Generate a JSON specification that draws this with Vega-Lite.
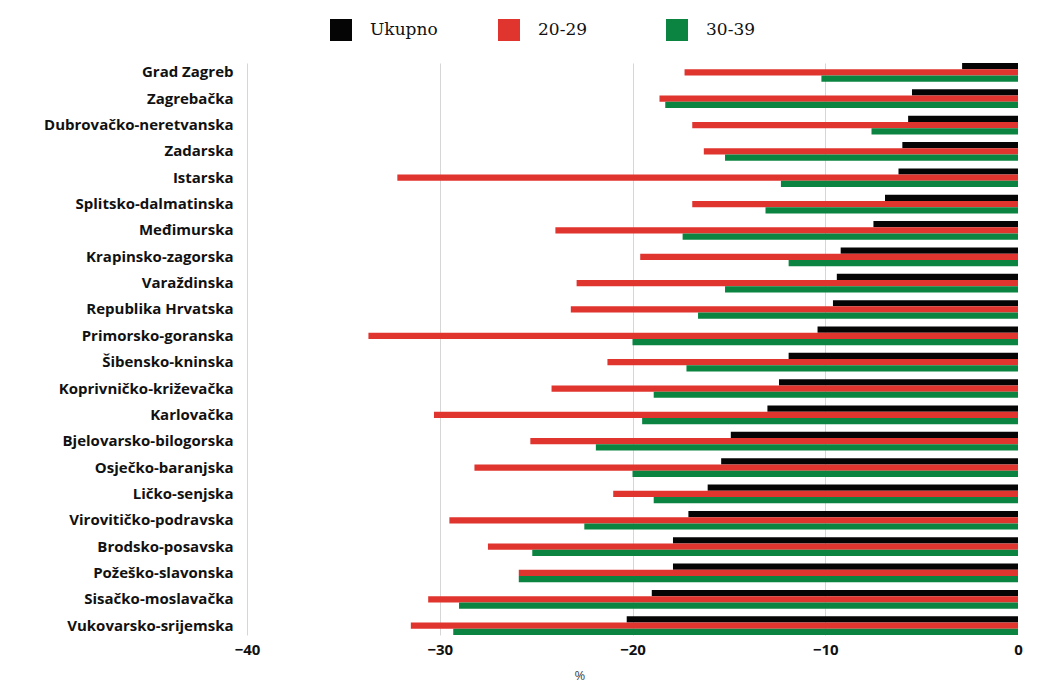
{
  "$schema": "https://vega.github.io/schema/vega-lite/v6.json",
  "width": 771,
  "height": 572,
  "autosize": {"type": "none"},
  "padding": {"left": 247, "top": 63, "right": 42, "bottom": 51},
  "background": "#ffffff",
  "config": {"view": {"stroke": null}},
  "data": {
    "values": [
      {"zupanija": "Grad Zagreb", "serija": "Ukupno", "vrijednost": -2.9},
      {"zupanija": "Grad Zagreb", "serija": "20-29", "vrijednost": -17.3},
      {"zupanija": "Grad Zagreb", "serija": "30-39", "vrijednost": -10.2},
      {"zupanija": "Zagrebačka", "serija": "Ukupno", "vrijednost": -5.5},
      {"zupanija": "Zagrebačka", "serija": "20-29", "vrijednost": -18.6},
      {"zupanija": "Zagrebačka", "serija": "30-39", "vrijednost": -18.3},
      {"zupanija": "Dubrovačko-neretvanska", "serija": "Ukupno", "vrijednost": -5.7},
      {"zupanija": "Dubrovačko-neretvanska", "serija": "20-29", "vrijednost": -16.9},
      {"zupanija": "Dubrovačko-neretvanska", "serija": "30-39", "vrijednost": -7.6},
      {"zupanija": "Zadarska", "serija": "Ukupno", "vrijednost": -6.0},
      {"zupanija": "Zadarska", "serija": "20-29", "vrijednost": -16.3},
      {"zupanija": "Zadarska", "serija": "30-39", "vrijednost": -15.2},
      {"zupanija": "Istarska", "serija": "Ukupno", "vrijednost": -6.2},
      {"zupanija": "Istarska", "serija": "20-29", "vrijednost": -32.2},
      {"zupanija": "Istarska", "serija": "30-39", "vrijednost": -12.3},
      {"zupanija": "Splitsko-dalmatinska", "serija": "Ukupno", "vrijednost": -6.9},
      {"zupanija": "Splitsko-dalmatinska", "serija": "20-29", "vrijednost": -16.9},
      {"zupanija": "Splitsko-dalmatinska", "serija": "30-39", "vrijednost": -13.1},
      {"zupanija": "Međimurska", "serija": "Ukupno", "vrijednost": -7.5},
      {"zupanija": "Međimurska", "serija": "20-29", "vrijednost": -24.0},
      {"zupanija": "Međimurska", "serija": "30-39", "vrijednost": -17.4},
      {"zupanija": "Krapinsko-zagorska", "serija": "Ukupno", "vrijednost": -9.2},
      {"zupanija": "Krapinsko-zagorska", "serija": "20-29", "vrijednost": -19.6},
      {"zupanija": "Krapinsko-zagorska", "serija": "30-39", "vrijednost": -11.9},
      {"zupanija": "Varaždinska", "serija": "Ukupno", "vrijednost": -9.4},
      {"zupanija": "Varaždinska", "serija": "20-29", "vrijednost": -22.9},
      {"zupanija": "Varaždinska", "serija": "30-39", "vrijednost": -15.2},
      {"zupanija": "Republika Hrvatska", "serija": "Ukupno", "vrijednost": -9.6},
      {"zupanija": "Republika Hrvatska", "serija": "20-29", "vrijednost": -23.2},
      {"zupanija": "Republika Hrvatska", "serija": "30-39", "vrijednost": -16.6},
      {"zupanija": "Primorsko-goranska", "serija": "Ukupno", "vrijednost": -10.4},
      {"zupanija": "Primorsko-goranska", "serija": "20-29", "vrijednost": -33.7},
      {"zupanija": "Primorsko-goranska", "serija": "30-39", "vrijednost": -20.0},
      {"zupanija": "Šibensko-kninska", "serija": "Ukupno", "vrijednost": -11.9},
      {"zupanija": "Šibensko-kninska", "serija": "20-29", "vrijednost": -21.3},
      {"zupanija": "Šibensko-kninska", "serija": "30-39", "vrijednost": -17.2},
      {"zupanija": "Koprivničko-križevačka", "serija": "Ukupno", "vrijednost": -12.4},
      {"zupanija": "Koprivničko-križevačka", "serija": "20-29", "vrijednost": -24.2},
      {"zupanija": "Koprivničko-križevačka", "serija": "30-39", "vrijednost": -18.9},
      {"zupanija": "Karlovačka", "serija": "Ukupno", "vrijednost": -13.0},
      {"zupanija": "Karlovačka", "serija": "20-29", "vrijednost": -30.3},
      {"zupanija": "Karlovačka", "serija": "30-39", "vrijednost": -19.5},
      {"zupanija": "Bjelovarsko-bilogorska", "serija": "Ukupno", "vrijednost": -14.9},
      {"zupanija": "Bjelovarsko-bilogorska", "serija": "20-29", "vrijednost": -25.3},
      {"zupanija": "Bjelovarsko-bilogorska", "serija": "30-39", "vrijednost": -21.9},
      {"zupanija": "Osječko-baranjska", "serija": "Ukupno", "vrijednost": -15.4},
      {"zupanija": "Osječko-baranjska", "serija": "20-29", "vrijednost": -28.2},
      {"zupanija": "Osječko-baranjska", "serija": "30-39", "vrijednost": -20.0},
      {"zupanija": "Ličko-senjska", "serija": "Ukupno", "vrijednost": -16.1},
      {"zupanija": "Ličko-senjska", "serija": "20-29", "vrijednost": -21.0},
      {"zupanija": "Ličko-senjska", "serija": "30-39", "vrijednost": -18.9},
      {"zupanija": "Virovitičko-podravska", "serija": "Ukupno", "vrijednost": -17.1},
      {"zupanija": "Virovitičko-podravska", "serija": "20-29", "vrijednost": -29.5},
      {"zupanija": "Virovitičko-podravska", "serija": "30-39", "vrijednost": -22.5},
      {"zupanija": "Brodsko-posavska", "serija": "Ukupno", "vrijednost": -17.9},
      {"zupanija": "Brodsko-posavska", "serija": "20-29", "vrijednost": -27.5},
      {"zupanija": "Brodsko-posavska", "serija": "30-39", "vrijednost": -25.2},
      {"zupanija": "Požeško-slavonska", "serija": "Ukupno", "vrijednost": -17.9},
      {"zupanija": "Požeško-slavonska", "serija": "20-29", "vrijednost": -25.9},
      {"zupanija": "Požeško-slavonska", "serija": "30-39", "vrijednost": -25.9},
      {"zupanija": "Sisačko-moslavačka", "serija": "Ukupno", "vrijednost": -19.0},
      {"zupanija": "Sisačko-moslavačka", "serija": "20-29", "vrijednost": -30.6},
      {"zupanija": "Sisačko-moslavačka", "serija": "30-39", "vrijednost": -29.0},
      {"zupanija": "Vukovarsko-srijemska", "serija": "Ukupno", "vrijednost": -20.3},
      {"zupanija": "Vukovarsko-srijemska", "serija": "20-29", "vrijednost": -31.5},
      {"zupanija": "Vukovarsko-srijemska", "serija": "30-39", "vrijednost": -29.3}
    ]
  },
  "mark": {"type": "bar", "cornerRadius": 0},
  "encoding": {
    "y": {
      "field": "zupanija",
      "type": "nominal",
      "sort": null,
      "scale": {"paddingInner": 0.29, "paddingOuter": 0},
      "axis": {
        "title": null,
        "domain": false,
        "ticks": false,
        "labelFont": "Open Sans",
        "labelFontWeight": "bold",
        "labelFontSize": 15,
        "labelColor": "#111111",
        "labelPadding": 14,
        "labelLimit": 300
      }
    },
    "yOffset": {
      "field": "serija",
      "type": "nominal",
      "sort": ["Ukupno", "20-29", "30-39"],
      "scale": {"paddingInner": 0, "paddingOuter": 0}
    },
    "x": {
      "field": "vrijednost",
      "type": "quantitative",
      "scale": {"domain": [-40, 0], "nice": false},
      "axis": {
        "title": "%",
        "titleFont": "Open Sans",
        "titleFontWeight": "normal",
        "titleFontSize": 13,
        "titleColor": "#444444",
        "titleAnchor": "start",
        "titleX": 327,
        "titleY": 34,
        "values": [-40, -30, -20, -10, 0],
        "domain": false,
        "ticks": false,
        "labelFlush": false,
        "labelFont": "Open Sans",
        "labelFontWeight": "bold",
        "labelFontSize": 15,
        "labelColor": "#111111",
        "labelPadding": 7,
        "grid": true,
        "gridColor": {"condition": {"test": "datum.value === 0", "value": "transparent"}, "value": "#d6d6d6"},
        "gridWidth": 1
      }
    },
    "color": {
      "field": "serija",
      "type": "nominal",
      "sort": ["Ukupno", "20-29", "30-39"],
      "scale": {"domain": ["Ukupno", "20-29", "30-39"], "range": ["#050505", "#e0352f", "#0b8441"]},
      "legend": {
        "title": null,
        "orient": "none",
        "legendX": 83,
        "legendY": -44,
        "direction": "horizontal",
        "columns": 3,
        "gridAlign": "all",
        "symbolType": "square",
        "symbolSize": 484,
        "symbolStrokeWidth": 0,
        "labelFont": "DejaVu Serif",
        "labelFontSize": 17,
        "labelColor": "#111111",
        "labelOffset": 18,
        "columnPadding": 60
      }
    }
  }
}
